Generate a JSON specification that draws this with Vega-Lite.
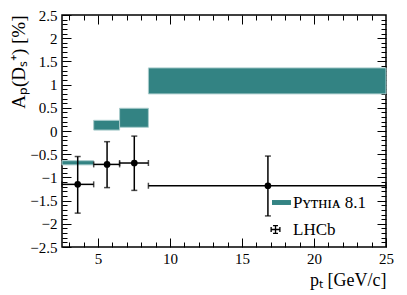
{
  "$schema": "https://vega.github.io/schema/vega-lite/v6.json",
  "width": 324,
  "height": 232,
  "autosize": "none",
  "padding": {"left": 62, "top": 15, "right": 21, "bottom": 48},
  "background": "white",
  "config": {
    "font": "Liberation Serif",
    "view": {"stroke": "black", "strokeWidth": 1.5},
    "axis": {
      "domain": false, "grid": false, "tickColor": "black", "tickWidth": 1,
      "labelColor": "black", "labelFont": "Liberation Serif", "labelFontSize": 15,
      "labelFlush": false, "labelOverlap": false,
      "titleFont": "Liberation Serif", "titleFontSize": 18, "titleFontWeight": "normal", "titleColor": "black"
    }
  },
  "datasets": {
    "pythia": [
      {"series": "Pythia 8.1", "xlo": 2.5, "xhi": 4.7, "ylo": -0.73, "yhi": -0.64},
      {"series": "Pythia 8.1", "xlo": 4.7, "xhi": 6.5, "ylo": 0.02, "yhi": 0.23},
      {"series": "Pythia 8.1", "xlo": 6.5, "xhi": 8.5, "ylo": 0.08, "yhi": 0.49},
      {"series": "Pythia 8.1", "xlo": 8.5, "xhi": 25, "ylo": 0.8, "yhi": 1.36}
    ],
    "lhcb": [
      {"x": 3.59, "xlo": 2.5, "xhi": 4.7, "y": -1.15, "ylo": -1.77, "yhi": -0.55},
      {"x": 5.63, "xlo": 4.7, "xhi": 6.5, "y": -0.72, "ylo": -1.22, "yhi": -0.23},
      {"x": 7.52, "xlo": 6.5, "xhi": 8.5, "y": -0.69, "ylo": -1.28, "yhi": -0.11},
      {"x": 16.8, "xlo": 8.5, "xhi": 25, "y": -1.18, "ylo": -1.83, "yhi": -0.54}
    ]
  },
  "resolve": {"axis": {"x": "independent", "y": "independent"}},
  "layer": [
    {
      "data": {"name": "pythia"},
      "mark": {"type": "rect", "stroke": "#a9cccc", "strokeWidth": 1},
      "encoding": {
        "x": {"field": "xlo", "type": "quantitative", "scale": {"domain": [2.5, 25], "nice": false, "zero": false},
          "axis": {"orient": "bottom", "values": [5, 10, 15, 20, 25], "format": "d", "tickSize": -9, "labelPadding": 13,
            "title": "pₜ [GeV/c]", "titleAlign": "right", "titleX": 324, "titleY": 38, "titleBaseline": "alphabetic"}},
        "x2": {"field": "xhi"},
        "y": {"field": "ylo", "type": "quantitative", "scale": {"domain": [-2.5, 2.5], "nice": false, "zero": false},
          "axis": {"orient": "left", "values": [-2.5, -2, -1.5, -1, -0.5, 0, 0.5, 1, 1.5, 2, 2.5], "format": ".1~f", "tickSize": -9, "labelPadding": 14,
            "title": "Aₚ(Dₛ⁺) [%]", "titleFontSize": 19, "titleAngle": 270, "titleAlign": "right", "titleBaseline": "middle", "titleX": -44, "titleY": 0}},
        "y2": {"field": "yhi"},
        "color": {"field": "series", "type": "nominal",
          "scale": {"domain": ["Pythia 8.1", "LHCb"], "range": ["#338383", "#000000"]},
          "legend": {
            "title": null, "orient": "none", "legendX": 210, "legendY": 178, "padding": 0,
            "labelFont": "Liberation Serif", "labelFontSize": 17, "labelColor": "black",
            "symbolSize": 361, "rowPadding": 9, "labelOffset": 2, "symbolStrokeWidth": 0,
            "symbolType": {"expr": "datum.value == 'LHCb' ? 'M-1.16,-0.07H-0.1V0.07H-1.16Z M-0.7,-0.47H-0.56V0.47H-0.7Z M-1.16,-0.26H-1.02V0.26H-1.16Z M-0.24,-0.26H-0.1V0.26H-0.24Z M-0.89,-0.47H-0.37V-0.33H-0.89Z M-0.89,0.33H-0.37V0.47H-0.89Z' : 'M-1,-0.26H1V0.26H-1Z'"},
            "labelExpr": "datum.label == 'Pythia 8.1' ? 'Pʏᴛʜɪᴀ 8.1' : datum.label"
          }}
      }
    },
    {
      "mark": {"type": "rule", "strokeDash": [2, 2], "color": "#555555", "strokeWidth": 1},
      "encoding": {
        "x": {"datum": 2.5, "type": "quantitative", "scale": {"domain": [2.5, 25], "nice": false, "zero": false},
          "axis": {"orient": "bottom", "values": [3, 4, 6, 7, 8, 9, 11, 12, 13, 14, 16, 17, 18, 19, 21, 22, 23, 24], "tickSize": -5, "labels": false, "title": null}},
        "x2": {"datum": 25},
        "y": {"datum": 0, "type": "quantitative", "scale": {"domain": [-2.5, 2.5], "nice": false, "zero": false},
          "axis": {"orient": "left", "values": [-2.4, -2.3, -2.2, -2.1, -1.9, -1.8, -1.7, -1.6, -1.4, -1.3, -1.2, -1.1, -0.9, -0.8, -0.7, -0.6, -0.4, -0.3, -0.2, -0.1, 0.1, 0.2, 0.3, 0.4, 0.6, 0.7, 0.8, 0.9, 1.1, 1.2, 1.3, 1.4, 1.6, 1.7, 1.8, 1.9, 2.1, 2.2, 2.3, 2.4], "tickSize": -5, "labels": false, "title": null}}
      }
    },
    {
      "data": {"name": "lhcb"},
      "mark": {"type": "errorbar", "thickness": 1.5, "color": "black", "ticks": {"size": 6, "thickness": 1.5, "color": "black"}},
      "encoding": {
        "x": {"field": "xlo", "type": "quantitative", "scale": {"domain": [2.5, 25], "nice": false, "zero": false}, "axis": null},
        "x2": {"field": "xhi"},
        "y": {"field": "y", "type": "quantitative", "scale": {"domain": [-2.5, 2.5], "nice": false, "zero": false}, "axis": null}
      }
    },
    {
      "data": {"name": "lhcb"},
      "mark": {"type": "errorbar", "thickness": 1.5, "color": "black", "ticks": {"size": 6, "thickness": 1.5, "color": "black"}},
      "encoding": {
        "x": {"field": "x", "type": "quantitative", "scale": {"domain": [2.5, 25], "nice": false, "zero": false}, "axis": null},
        "y": {"field": "ylo", "type": "quantitative", "scale": {"domain": [-2.5, 2.5], "nice": false, "zero": false}, "axis": null},
        "y2": {"field": "yhi"}
      }
    },
    {
      "data": {"name": "lhcb"},
      "mark": {"type": "circle", "color": "black", "size": 45, "opacity": 1},
      "encoding": {
        "x": {"field": "x", "type": "quantitative", "scale": {"domain": [2.5, 25], "nice": false, "zero": false},
          "axis": {"orient": "top", "values": [5, 10, 15, 20], "tickSize": -9, "labels": false, "title": null}},
        "y": {"field": "y", "type": "quantitative", "scale": {"domain": [-2.5, 2.5], "nice": false, "zero": false},
          "axis": {"orient": "right", "values": [-2, -1.5, -1, -0.5, 0, 0.5, 1, 1.5, 2], "tickSize": -9, "labels": false, "title": null}}
      }
    },
    {
      "mark": {"type": "text", "text": "√s = 7 TeV", "align": "left", "baseline": "alphabetic", "fontSize": 18, "font": "Liberation Serif", "color": "black"},
      "encoding": {
        "x": {"datum": 3.3, "type": "quantitative", "scale": {"domain": [2.5, 25], "nice": false, "zero": false},
          "axis": {"orient": "top", "values": [3, 4, 6, 7, 8, 9, 11, 12, 13, 14, 16, 17, 18, 19, 21, 22, 23, 24], "tickSize": -5, "labels": false, "title": null}},
        "y": {"datum": 1.72, "type": "quantitative", "scale": {"domain": [-2.5, 2.5], "nice": false, "zero": false},
          "axis": {"orient": "right", "values": [-2.4, -2.3, -2.2, -2.1, -1.9, -1.8, -1.7, -1.6, -1.4, -1.3, -1.2, -1.1, -0.9, -0.8, -0.7, -0.6, -0.4, -0.3, -0.2, -0.1, 0.1, 0.2, 0.3, 0.4, 0.6, 0.7, 0.8, 0.9, 1.1, 1.2, 1.3, 1.4, 1.6, 1.7, 1.8, 1.9, 2.1, 2.2, 2.3, 2.4], "tickSize": -5, "labels": false, "title": null}}
      }
    },
    {
      "mark": {"type": "text", "text": "3.5 < y < 4.5", "align": "right", "baseline": "alphabetic", "fontSize": 18, "font": "Liberation Serif", "color": "black"},
      "encoding": {
        "x": {"datum": 24.0, "type": "quantitative", "scale": {"domain": [2.5, 25], "nice": false, "zero": false}, "axis": null},
        "y": {"datum": 1.72, "type": "quantitative", "scale": {"domain": [-2.5, 2.5], "nice": false, "zero": false}, "axis": null}
      }
    }
  ]
}
